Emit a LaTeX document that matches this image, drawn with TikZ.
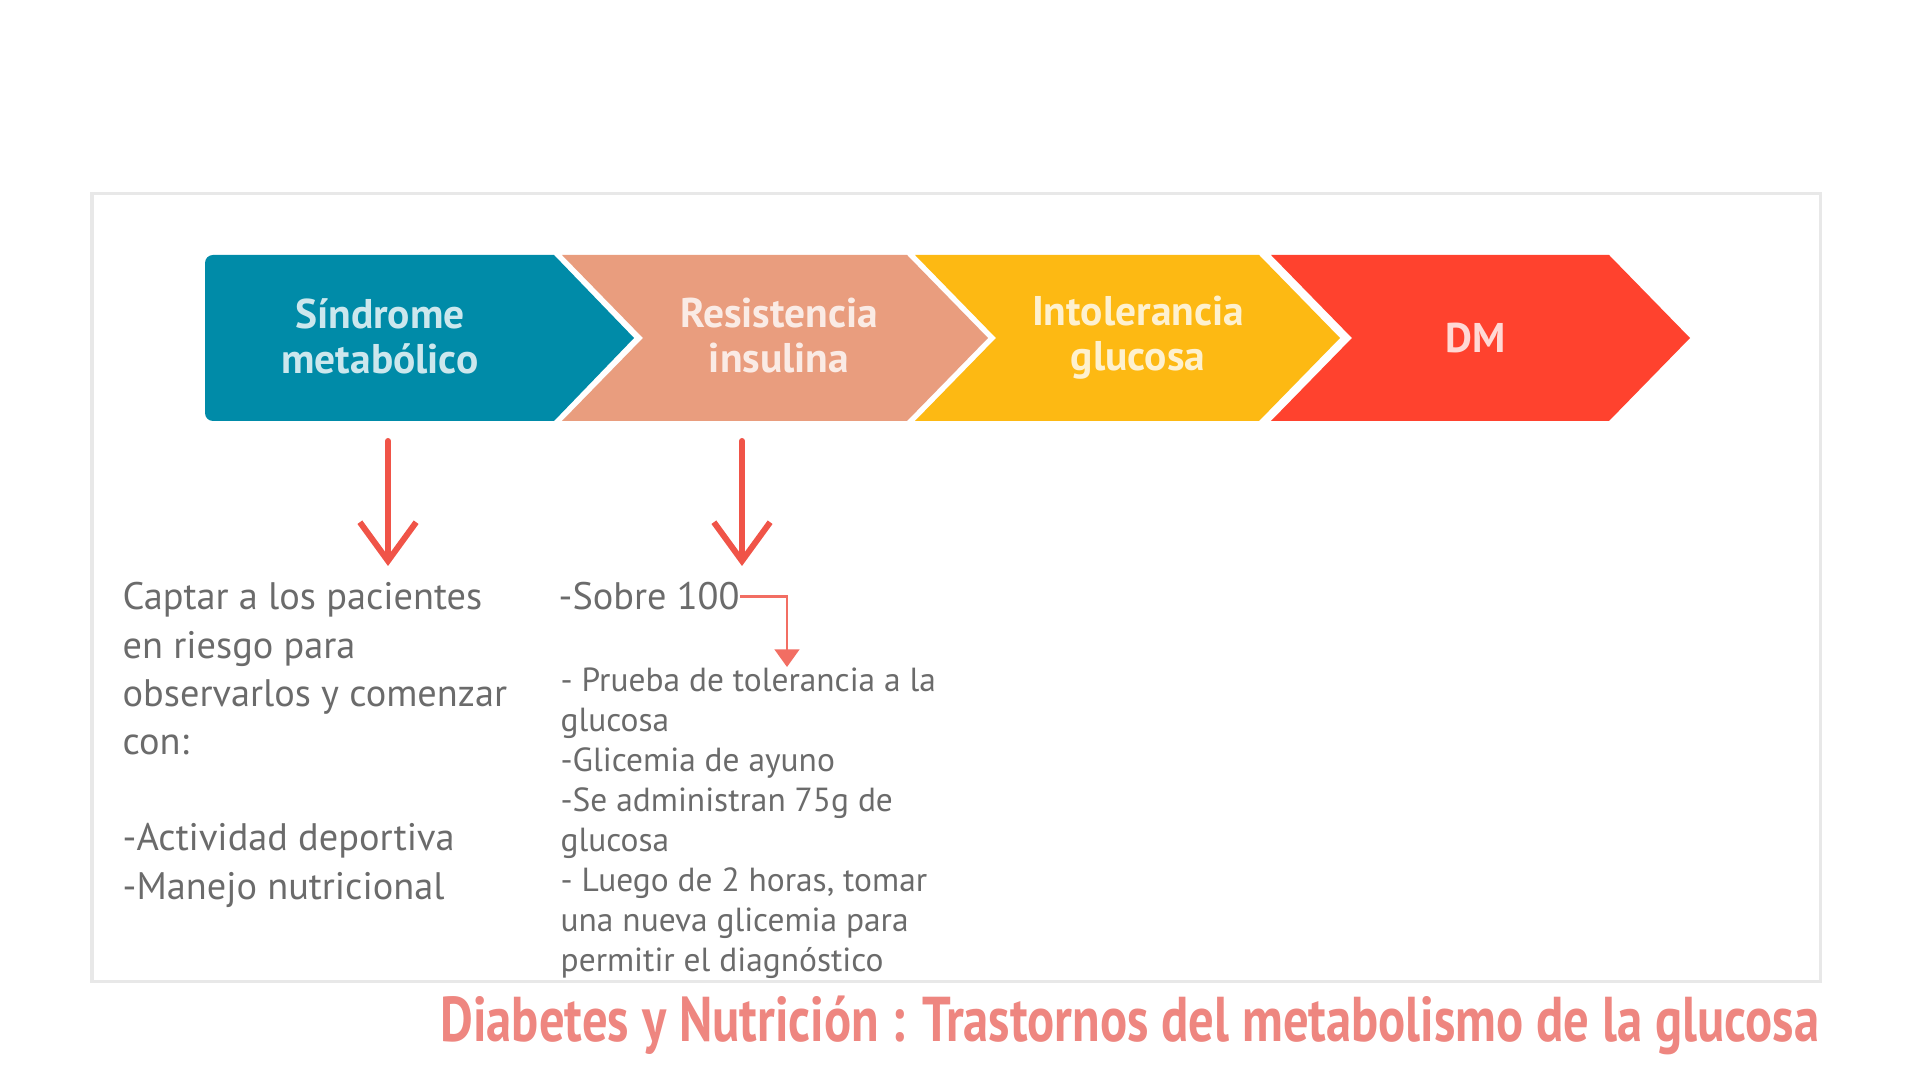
\documentclass[tikz,border=0pt]{standalone}
\usepackage{fontspec}
\setmainfont{PT Sans}
\newfontfamily\titlefont[FakeStretch=0.8]{PT Sans}
\usetikzlibrary{arrows.meta}

\definecolor{chevteal}{RGB}{0,139,168}
\definecolor{chevsalmon}{RGB}{233,157,126}
\definecolor{chevamber}{RGB}{253,185,19}
\definecolor{chevred}{RGB}{255,66,46}
\definecolor{arrowred}{RGB}{240,84,72}
\definecolor{titlered}{RGB}{238,134,128}
\definecolor{framegray}{RGB}{232,232,232}

\tikzset{
  chevtext/.style={text=white, text opacity=0.8, font=\bfseries\fontsize{11.8}{12.8}\selectfont, align=center, inner sep=0pt},
  bodytext/.style={text=black!58, font=\fontsize{10.9}{13.7}\selectfont, align=left, inner sep=0pt},
  smalltext/.style={text=black!58, font=\fontsize{9.5}{11.4}\selectfont, align=left, inner sep=0pt},
  bigarrow/.style={draw=arrowred, line width=1.7pt, line cap=round, -{Straight Barb[length=11pt,width=16pt,line width=1.7pt]}},
  thinarrow/.style={draw=arrowred!85, line width=0.7pt, -{Triangle[length=5pt,width=7pt]}}
}

\begin{document}
\begin{tikzpicture}[x=0.01cm,y=-0.01cm]
	\fill[white] (0,0) rectangle (1920,1080);
	\useasboundingbox (0,0) rectangle (1920,1080);

	% frame
	\draw[framegray, line width=0.03cm] (92,194) rectangle (1820,982);

	% chevrons
	\fill[chevteal] (554,255) -- (634,338) -- (554,421) [rounded corners=0.08cm] -- (205,421) -- (205,255) [sharp corners] -- cycle;
	\foreach \l/\r/\c in {562/907/chevsalmon, 915/1259/chevamber, 1271/1609/chevred}
		\fill[\c] (\l,255) -- (\r,255) -- (\r+81,338) -- (\r,421) -- (\l,421) -- (\l+81,338) -- cycle;

	\node[chevtext] (sm) at (380,336) {Síndrome\\metabólico};
	\node[chevtext] (ri) at (779,336) {Resistencia\\insulina};
	\node[chevtext] (ig) at (1138,338) {Intolerancia\\glucosa};
	\node[chevtext] (dm) at (1476,338) {DM};

	% texts below
	\node[bodytext, anchor=north west] (captar) at (122,582) {Captar a los pacientes\\en riesgo para\\observarlos y comenzar\\con:\\[13.7pt]-Actividad deportiva\\-Manejo nutricional};
	\node[bodytext, anchor=north west] (sobre) at (558,582) {-Sobre 100};
	\node[smalltext, anchor=north west] (prueba) at (560,667) {- Prueba de tolerancia a la\\glucosa\\-Glicemia de ayuno\\-Se administran 75g de\\glucosa\\- Luego de 2 horas, tomar\\una nueva glicemia para\\permitir el diagnóstico};

	% arrows
	\coordinate (smb) at (388,441);
	\coordinate (rib) at (742,441);
	\coordinate (sp) at (787,667);
	\draw[bigarrow, shorten >=0.16cm] (smb) -- (smb |- captar.north);
	\draw[bigarrow, shorten >=0.16cm] (rib) -- (rib |- sobre.north);
	\draw[thinarrow] (sobre.east) -| (sp);

	% title
	\node[anchor=base east, inner sep=0pt, text=titlered, font=\titlefont\bfseries\fontsize{18}{21}\selectfont] (titulo) at (1820,1042) {Diabetes y Nutrición : Trastornos del metabolismo de la glucosa};
\end{tikzpicture}
\end{document}
